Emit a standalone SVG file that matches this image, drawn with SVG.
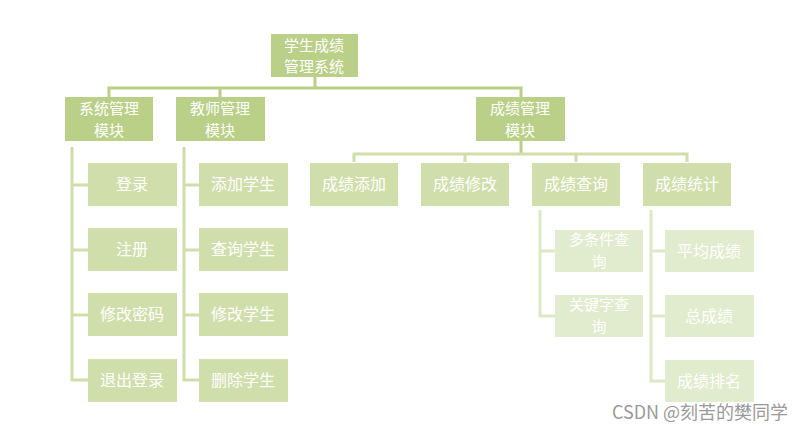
<svg xmlns="http://www.w3.org/2000/svg" width="811" height="431" viewBox="0 0 811 431">
<style>
text{font-family:"Noto Sans CJK SC","Liberation Sans",sans-serif;font-size:16px;fill:#fff;text-anchor:middle}
.t{font-size:15px}
.a{fill:#bacf87}.b{fill:#cfdeaa}.c{fill:#e1ebcd}
.l1{stroke:#bacf87;stroke-width:3;fill:none}.l2{stroke:#cfdeaa;stroke-width:3;fill:none}.l3{stroke:#dde8c6;stroke-width:3;fill:none}
</style>
<rect width="811" height="431" fill="#fff"/>
<g id="connectors">
<path class="l1" d="M315 77V88M109 97V88H521V97M220 88V97"/>
<path class="l1" d="M521 141V154"/>
<path class="l2" d="M354 162V154H687V162M465 154V162M576 154V162"/>
<path class="l2" d="M72 147V380H88M72 185H88M72 250H88M72 315H88"/>
<path class="l2" d="M184 147V380H199M184 185H199M184 250H199M184 315H199"/>
<path class="l3" d="M540 210V316H555M540 251H555"/>
<path class="l3" d="M651 210V381H665M651 251H665M651 316H665"/>
</g>
<g id="root"><rect class="a" x="271" y="34" width="87" height="43"/><text class="t" x="314" y="51">学生成绩</text><text class="t" x="314" y="72">管理系统</text></g>
<g id="m1"><rect class="a" x="65" y="97" width="88" height="44"/><text class="t" x="109" y="114">系统管理</text><text class="t" x="109" y="136">模块</text></g>
<g id="m2"><rect class="a" x="176" y="97" width="89" height="44"/><text class="t" x="220" y="114">教师管理</text><text class="t" x="220" y="136">模块</text></g>
<g id="m3"><rect class="a" x="476" y="97" width="89" height="44"/><text class="t" x="520" y="114">成绩管理</text><text class="t" x="520" y="136">模块</text></g>
<g id="n1"><rect class="b" x="88" y="163" width="89" height="43"/><text x="132" y="190">登录</text></g>
<g id="n2"><rect class="b" x="88" y="228" width="89" height="43"/><text x="132" y="255">注册</text></g>
<g id="n3"><rect class="b" x="88" y="293" width="89" height="43"/><text x="132" y="320">修改密码</text></g>
<g id="n4"><rect class="b" x="88" y="359" width="89" height="43"/><text x="132" y="386">退出登录</text></g>
<g id="t1"><rect class="b" x="199" y="163" width="89" height="43"/><text x="243" y="190">添加学生</text></g>
<g id="t2"><rect class="b" x="199" y="228" width="89" height="43"/><text x="243" y="255">查询学生</text></g>
<g id="t3"><rect class="b" x="199" y="293" width="89" height="43"/><text x="243" y="320">修改学生</text></g>
<g id="t4"><rect class="b" x="199" y="359" width="89" height="43"/><text x="243" y="386">删除学生</text></g>
<g id="g1"><rect class="b" x="310" y="163" width="88" height="43"/><text x="354" y="190">成绩添加</text></g>
<g id="g2"><rect class="b" x="421" y="163" width="88" height="43"/><text x="465" y="190">成绩修改</text></g>
<g id="g3"><rect class="b" x="532" y="163" width="88" height="43"/><text x="576" y="190">成绩查询</text></g>
<g id="g4"><rect class="b" x="643" y="163" width="88" height="43"/><text x="687" y="190">成绩统计</text></g>
<g id="q1"><rect class="c" x="555" y="230" width="88" height="42"/><text class="t" x="599" y="245">多条件查</text><text class="t" x="599" y="267">询</text></g>
<g id="q2"><rect class="c" x="555" y="295" width="88" height="42"/><text class="t" x="599" y="310">关键字查</text><text class="t" x="599" y="332">询</text></g>
<g id="s1"><rect class="c" x="665" y="230" width="89" height="42"/><text x="709" y="257">平均成绩</text></g>
<g id="s2"><rect class="c" x="665" y="295" width="89" height="42"/><text x="709" y="322">总成绩</text></g>
<g id="s3"><rect class="c" x="665" y="360" width="89" height="42"/><text x="709" y="387">成绩排名</text></g>
<text x="700" y="419" style="fill:#9a9a9a;font-size:18px">CSDN @刻苦的樊同学</text>
</svg>
